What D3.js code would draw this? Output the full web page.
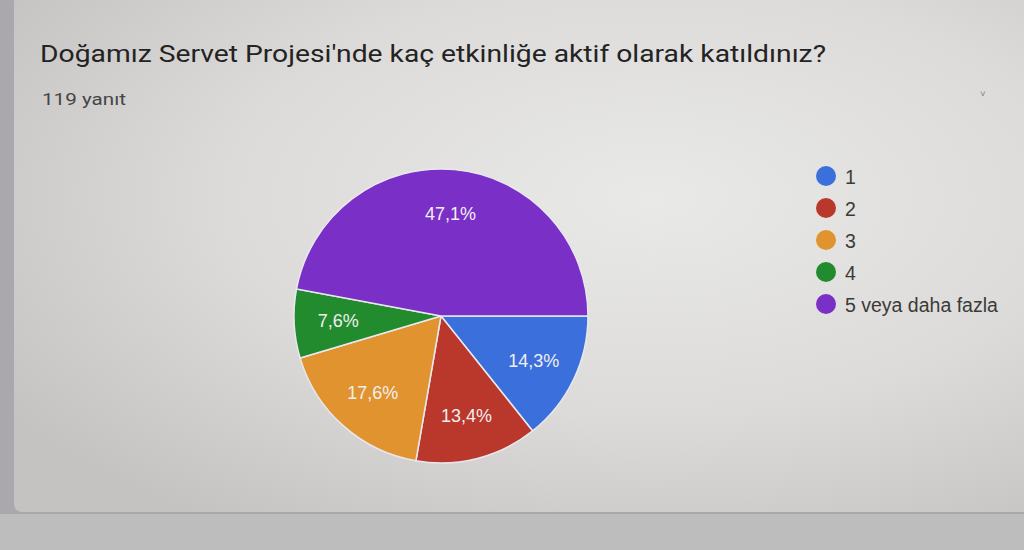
<!DOCTYPE html>
<html>
<head>
<meta charset="utf-8">
<script src="https://cdn.jsdelivr.net/npm/d3@7/dist/d3.min.js"></script>
<style>
  html, body { margin: 0; padding: 0; background: #a9a8aa; }
  svg { display: block; }
</style>
</head>
<body>
<svg id="chart" width="1024" height="550"></svg>
<script>
const title = "Doğamız Servet Projesi'nde kaç etkinliğe aktif olarak katıldınız?";
const subtitle = "119 yanıt";
const categories = ["1", "2", "3", "4", "5 veya daha fazla"];
const counts = [17, 16, 21, 9, 56];
const percentLabels = ["14,3%", "13,4%", "17,6%", "7,6%", "47,1%"];
const colors = ["#3b6fdc", "#b9372b", "#e0932e", "#218b2e", "#7a2fc6"];

const svg = d3.select("#chart");
const defs = svg.append("defs");
const grad = defs.append("radialGradient").attr("id", "bg")
  .attr("cx", "62%").attr("cy", "40%").attr("r", "75%");
grad.append("stop").attr("offset", "0%").attr("stop-color", "#e9e9e7");
grad.append("stop").attr("offset", "55%").attr("stop-color", "#dcdbd9");
grad.append("stop").attr("offset", "100%").attr("stop-color", "#c4c3c1");

// page backdrop
svg.append("rect").attr("x", 0).attr("y", 0).attr("width", 1024).attr("height", 550).attr("fill", "#aaa8ac");
svg.append("rect").attr("x", 0).attr("y", 514).attr("width", 1024).attr("height", 36).attr("fill", "#bdbdbd");
// card
svg.append("rect").attr("x", 14).attr("y", -10).attr("width", 1030).attr("height", 522)
  .attr("rx", 8).attr("fill", "url(#bg)");

const font = "Roboto, 'Liberation Sans', Arial, sans-serif";
svg.append("text").attr("x", 40).attr("y", 62)
  .attr("font-family", font)
  .attr("font-size", 24).attr("fill", "#232323")
  .attr("textLength", 786).attr("lengthAdjust", "spacingAndGlyphs")
  .text(title);
svg.append("text").attr("x", 42).attr("y", 105)
  .attr("font-family", font)
  .attr("font-size", 17).attr("fill", "#454545")
  .attr("textLength", 84).attr("lengthAdjust", "spacingAndGlyphs")
  .text(subtitle);
svg.append("text").attr("x", 983).attr("y", 97).attr("text-anchor", "middle")
  .attr("font-family", font).attr("font-size", 9).attr("fill", "#777").text("˅");

const cx = 441, cy = 316, r = 147;
const data = categories.map((c, i) => ({ cat: c, value: counts[i], label: percentLabels[i], color: colors[i] }));
const pie = d3.pie().value(d => d.value).sort(null)
  .startAngle(Math.PI / 2).endAngle(Math.PI / 2 + 2 * Math.PI);
const arc = d3.arc().innerRadius(0).outerRadius(r);
const labelArc = d3.arc().innerRadius(r * 0.7).outerRadius(r * 0.7);

const g = svg.append("g").attr("transform", `translate(${cx},${cy})`);
const arcs = pie(data);
g.selectAll("path").data(arcs).join("path")
  .attr("d", arc).attr("fill", d => d.data.color)
  .attr("stroke", "#e8e8ee").attr("stroke-width", 1.5);
g.selectAll("text").data(arcs).join("text")
  .attr("transform", d => `translate(${labelArc.centroid(d)})`)
  .attr("text-anchor", "middle").attr("dominant-baseline", "central")
  .attr("font-family", "'Liberation Sans', Arial, sans-serif")
  .attr("font-size", 18).attr("fill", "#f2eeee")
  .text(d => d.data.label);

const legend = svg.append("g").attr("transform", "translate(826,176)");
const items = legend.selectAll("g").data(data).join("g")
  .attr("transform", (d, i) => `translate(0,${i * 32})`);
items.append("circle").attr("r", 10).attr("fill", d => d.color);
items.append("text").attr("x", 19).attr("y", 1).attr("dominant-baseline", "central")
  .attr("font-family", "'Liberation Sans', Arial, sans-serif")
  .attr("font-size", 19.5).attr("fill", "#3a3a3a").text(d => d.cat);
</script>
</body>
</html>
